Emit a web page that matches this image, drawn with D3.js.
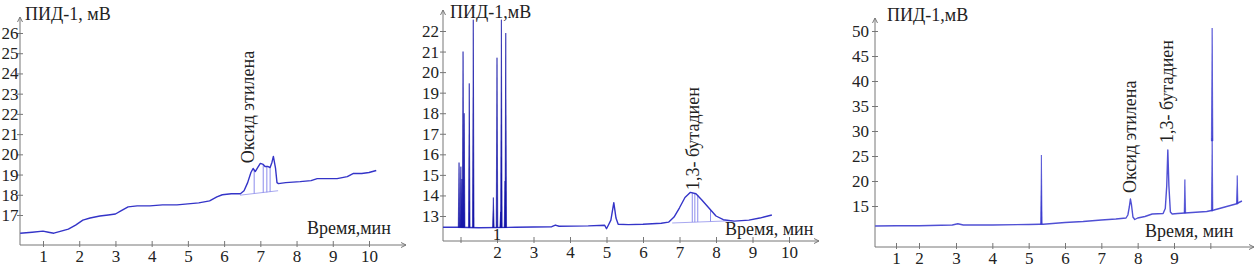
<!DOCTYPE html>
<html lang="ru">
<head>
<meta charset="UTF-8">
<title>Хроматограммы</title>
<script src="https://d3js.org/d3.v7.min.js"></script>
<style>
  body { margin: 0; background: #fff; }
  svg { display: block; font-family: "Liberation Serif", "DejaVu Serif", serif; }
  svg text { font-family: "Liberation Serif", "DejaVu Serif", serif; fill: #222; }
  .tick text { font-size: 17px; }
  .tick line, .axisLine { stroke: #777; stroke-width: 1; }
</style>
</head>
<body>
<svg id="chart" width="1260" height="268"></svg>
<script>
// ---- данные (время, мин / сигнал, мВ) ----
// панель 1
const p1Time = [0.37, 0.7, 1.0, 1.15, 1.3, 1.5, 1.7, 1.9, 2.1, 2.3, 2.57, 2.8, 3.0, 3.15, 3.35, 3.6, 3.95, 4.3, 4.7, 5.0, 5.3, 5.6, 5.8, 5.95, 6.2, 6.45,
  6.55, 6.65, 6.74, 6.8, 6.86, 6.93, 7.0, 7.08, 7.13, 7.2, 7.27, 7.32, 7.36, 7.42, 7.46, 7.5, 7.7, 8.1, 8.4, 8.57, 8.8, 9.12, 9.4, 9.56, 9.8, 10.0, 10.2];
const p1Signal = [16.1, 16.15, 16.2, 16.15, 16.1, 16.2, 16.3, 16.5, 16.75, 16.85, 16.95, 17.0, 17.05, 17.2, 17.4, 17.45, 17.45, 17.5, 17.5, 17.55, 17.6, 17.7, 17.9, 18.0, 18.05, 18.05,
  18.2, 18.6, 19.1, 19.3, 19.15, 19.35, 19.55, 19.5, 19.4, 19.4, 19.35, 19.6, 19.9, 19.3, 18.6, 18.55, 18.6, 18.65, 18.7, 18.8, 18.8, 18.8, 18.9, 19.05, 19.05, 19.1, 19.2];
const p1DropTime = [6.83, 7.08, 7.18, 7.27];
const p1DropTop = [19.2, 19.5, 19.4, 19.35];
const p1DropBase = [18.06, 18.1, 18.12, 18.14];
const p1IntegTime = [6.44, 7.49];
const p1IntegVal = [17.98, 18.2];
const p1YTicks = [17, 18, 19, 20, 21, 22, 23, 24, 25, 26];
const p1XTicks = [1, 2, 3, 4, 5, 6, 7, 8, 9, 10];

// панель 2
const p2Time = [0.52, 0.9, 1.5, 2.5, 3.5, 3.6, 3.7, 4.5, 4.95, 5.0, 5.05, 5.12, 5.2, 5.26, 5.32, 5.6, 6.0, 6.5, 6.7, 6.85, 7.0, 7.15, 7.3, 7.45,
  7.6, 7.8, 8.0, 8.2, 8.5, 8.9, 9.2, 9.53];
const p2Signal = [12.45, 12.45, 12.43, 12.45, 12.48, 12.56, 12.5, 12.52, 12.55, 12.38, 12.55, 12.8, 13.65, 12.9, 12.6, 12.58, 12.6, 12.65, 12.7, 12.95, 13.4, 13.9, 14.15, 14.08,
  13.8, 13.4, 13.0, 12.82, 12.75, 12.8, 12.9, 13.05];
const p2SpikeTime = [0.96, 1.01, 1.04, 1.07, 1.1, 1.24, 1.35, 1.9, 2.0, 2.1, 2.12, 2.22, 2.24];
const p2SpikeBase = [12.45, 12.45, 12.45, 12.45, 12.45, 12.44, 12.44, 12.44, 12.44, 12.44, 12.44, 12.44, 12.44];
const p2SpikeTop = [15.6, 15.4, 14.8, 21.0, 18.0, 19.45, 22.55, 13.9, 20.7, 13.2, 22.55, 14.7, 21.9];
const p2DropTime = [7.35, 7.42, 7.5, 7.85];
const p2DropTop = [14.14, 14.11, 14.03, 13.3];
const p2DropBase = [12.7, 12.7, 12.71, 12.73];
const p2IntegTime = [6.8, 8.45];
const p2IntegVal = [12.66, 12.77];
const p2YTicks = [13, 14, 15, 16, 17, 18, 19, 20, 21, 22];
const p2XTicks = [1, 2, 3, 4, 5, 6, 7, 8, 9, 10];
const p2XLabels = ["", "2", "3", "4", "5", "6", "7", "8", "9", "10"];

// панель 3
const p3Time = [0.09, 1, 2, 2.9, 3.05, 3.2, 4, 5, 5.3, 5.4, 6, 6.5, 7, 7.4, 7.68, 7.73, 7.77, 7.8, 7.83, 7.87, 7.92, 8.0, 8.2, 8.4,
  8.7, 8.76, 8.8, 8.83, 8.86, 8.9, 8.95, 9.1, 9.5, 9.9, 10.1, 10.4, 10.7, 10.87];
const p3Signal = [11.0, 11.05, 11.05, 11.2, 11.45, 11.2, 11.2, 11.3, 11.35, 11.35, 11.7, 11.9, 12.2, 12.4, 12.6, 13.2, 14.8, 16.4, 15.2, 12.8, 12.3, 12.6, 12.9, 13.4,
  13.5, 14.5, 19.0, 26.2, 19.0, 13.8, 13.4, 13.5, 13.7, 13.9, 14.2, 14.8, 15.4, 16.0];
const p3SpikeTime = [5.35, 9.3, 10.05, 10.05, 10.74];
const p3SpikeBase = [11.35, 13.6, 14.0, 28.0, 15.4];
const p3SpikeTop = [25.2, 20.3, 28.6, 50.6, 21.1];
const p3YTicks = [15, 20, 25, 30, 35, 40, 45, 50];
const p3XTicks = [1, 2, 3, 4, 5, 6, 7, 8, 9, 10];
const p3XLabels = ["1", "2", "3", "4", "5", "6", "7", "8", "9", ""];

const FONT = "Liberation Serif, DejaVu Serif, serif";
const svg = d3.select("#chart");

function zip(a, b) { return a.map((d, i) => [d, b[i]]); }

function drawPanel(p) {
  const g = svg.append("g");
  const x = p.x, y = p.y;

  // оси
  const yAxis = d3.axisLeft(y).tickValues(p.yTicks).tickSizeInner(3).tickSizeOuter(0);
  const ya = g.append("g").attr("transform", `translate(${p.left},0)`).call(yAxis)
    .attr("font-family", FONT).attr("font-size", 17);
  ya.select(".domain").remove();
  ya.selectAll(".tick line").attr("x1", -3).attr("x2", 3);
  ya.selectAll(".tick text").attr("x", -p.yPad);

  const xAxis = d3.axisBottom(x).tickValues(p.xTicks).tickSizeInner(4).tickSizeOuter(0)
    .tickFormat((d, i) => p.xLabels ? p.xLabels[i] : d);
  const xa = g.append("g").attr("transform", `translate(0,${p.bottom})`).call(xAxis)
    .attr("font-family", FONT).attr("font-size", 17);
  xa.select(".domain").remove();
  xa.selectAll(".tick line").attr("y1", -4).attr("y2", 2);
  xa.selectAll(".tick text").attr("y", 5).attr("dy", "0.71em");

  g.append("line").attr("class", "axisLine")
    .attr("x1", p.left).attr("x2", p.left).attr("y1", p.bottom).attr("y2", p.top);
  g.append("path").attr("d", `M${p.left - 2.5},${p.top + 5}L${p.left},${p.top}L${p.left + 2.5},${p.top + 5}`)
    .attr("fill", "none").attr("stroke", "#777");
  g.append("line").attr("class", "axisLine")
    .attr("x1", p.left).attr("x2", p.right).attr("y1", p.bottom).attr("y2", p.bottom);
  g.append("path").attr("d", `M${p.right - 5},${p.bottom - 2.5}L${p.right},${p.bottom}L${p.right - 5},${p.bottom + 2.5}`)
    .attr("fill", "none").attr("stroke", "#777");

  const line = d3.line().x(d => x(d[0])).y(d => y(d[1]));

  // интеграционная база и перпендикуляры
  if (p.integ) {
    g.append("path").attr("d", line(p.integ)).attr("fill", "none").attr("stroke", "#a8a8f0").attr("stroke-width", 1);
  }
  if (p.drops) {
    g.selectAll(null).data(p.drops).join("line")
      .attr("x1", d => x(d[0])).attr("x2", d => x(d[0]))
      .attr("y1", d => y(d[1])).attr("y2", d => y(d[2]))
      .attr("stroke", "#8c8cec").attr("stroke-width", 1);
  }

  // сигнал
  g.append("path").attr("d", line(p.trace)).attr("fill", "none")
    .attr("stroke", p.color).attr("stroke-width", 1.4).attr("stroke-linejoin", "round");

  // узкие пики
  if (p.spikes) {
    g.selectAll(null).data(p.spikes).join("path")
      .attr("d", d => `M${x(d[0]) - 0.8},${y(d[1])}L${x(d[0])},${y(d[2])}L${x(d[0]) + 0.8},${y(d[1])}Z`)
      .attr("fill", p.spikeColor).attr("stroke", p.spikeColor).attr("stroke-width", 0.6);
  }

  // подписи
  const label = (sel) => sel.attr("font-family", FONT).attr("font-size", 18);
  g.append("text").attr("x", p.titleX).attr("y", p.titleY).call(label).text(p.title);
  g.append("text").attr("x", p.timeX).attr("y", p.timeY).call(label).text(p.timeLabel);
  p.notes.forEach(n => {
    g.append("text")
      .attr("transform", `translate(${x(n.t)},${y(n.v)}) rotate(-90)`)
      .attr("dy", "0.35em").call(label).text(n.text);
  });
  return g;
}

// панель 1
drawPanel({
  x: d3.scaleLinear().domain([1, 10]).range([43, 369]),
  y: d3.scaleLinear().domain([17, 26]).range([215, 33]),
  left: 20, right: 406, top: 17, bottom: 245, yPad: 1.5,
  yTicks: p1YTicks, xTicks: p1XTicks,
  trace: zip(p1Time, p1Signal),
  drops: p1DropTime.map((t, i) => [t, p1DropTop[i], p1DropBase[i]]),
  integ: zip(p1IntegTime, p1IntegVal),
  color: "#3434c8",
  title: "ПИД-1, мВ", titleX: 25, titleY: 20,
  timeLabel: "Время,мин", timeX: 307, timeY: 234,
  notes: [{ t: 6.66, v: 19.56, text: "Оксид этилена" }]
});

// панель 2
const g2 = drawPanel({
  x: d3.scaleLinear().domain([2, 10]).range([497, 789]),
  y: d3.scaleLinear().domain([13, 22]).range([216, 31]),
  left: 443, right: 819, top: 10, bottom: 241, yPad: 4,
  yTicks: p2YTicks, xTicks: p2XTicks, xLabels: p2XLabels,
  trace: zip(p2Time, p2Signal),
  spikes: p2SpikeTime.map((t, i) => [t, p2SpikeBase[i], p2SpikeTop[i]]),
  spikeColor: "#1414a8",
  drops: p2DropTime.map((t, i) => [t, p2DropTop[i], p2DropBase[i]]),
  integ: zip(p2IntegTime, p2IntegVal),
  color: "#3434c8",
  title: "ПИД-1,мВ", titleX: 450, titleY: 18,
  timeLabel: "Время, мин", timeX: 725, timeY: 235,
  notes: [{ t: 7.37, v: 14.26, text: "1,3- бутадиен" }]
});
// одиночная «1» над осью у отметки 2
g2.append("text").attr("x", 497).attr("y", 240).attr("text-anchor", "middle")
  .attr("font-family", FONT).attr("font-size", 17).text("1");

// панель 3
drawPanel({
  x: d3.scaleLinear().domain([1, 2, 3, 9]).range([896, 919, 956, 1174]),
  y: d3.scaleLinear().domain([15, 50]).range([206, 31]),
  left: 875, right: 1254, top: 18, bottom: 247, yPad: 6,
  yTicks: p3YTicks, xTicks: p3XTicks, xLabels: p3XLabels,
  trace: zip(p3Time, p3Signal),
  spikes: p3SpikeTime.map((t, i) => [t, p3SpikeBase[i], p3SpikeTop[i]]),
  spikeColor: "#3c3cd0",
  color: "#5050d4",
  title: "ПИД-1,мВ", titleX: 887, titleY: 21,
  timeLabel: "Время, мин", timeX: 1145, timeY: 237,
  notes: [{ t: 7.79, v: 17.6, text: "Оксид этилена" }, { t: 8.81, v: 27.6, text: "1,3- бутадиен" }]
});
</script>
</body>
</html>
